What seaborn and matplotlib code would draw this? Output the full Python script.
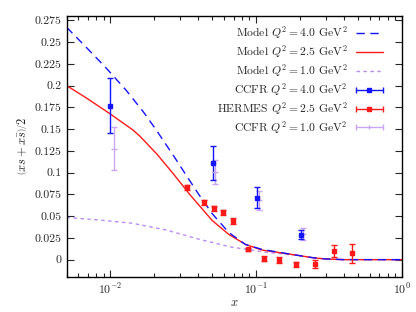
import numpy as np
import pandas as pd
import seaborn as sns
import matplotlib.pyplot as plt
from matplotlib.lines import Line2D
from matplotlib.ticker import FixedLocator, FuncFormatter, LogLocator, NullFormatter, NullLocator
from matplotlib.container import ErrorbarContainer
from matplotlib.legend_handler import HandlerErrorbar

# model curves
x_q40 = [0.005, 0.0068, 0.00934, 0.0128, 0.0167, 0.0204, 0.0272, 0.0336, 0.0404, 0.0499,
         0.0649, 0.0845, 0.110, 0.187, 0.25, 0.3, 0.4, 1.0]
model_q40 = [0.267, 0.2442, 0.2202, 0.1947, 0.1705, 0.1501, 0.119, 0.0953, 0.0749, 0.0529,
             0.0312, 0.0174, 0.0117, 0.0053, 0.002, 0.0008, 0.0, 0.0]

x_q25 = [0.005, 0.0068, 0.00985, 0.01426, 0.016, 0.0209, 0.0272, 0.0354, 0.0499,
         0.0649, 0.0845, 0.110, 0.187, 0.25, 0.3, 0.4, 1.0]
model_q25 = [0.200, 0.186, 0.168, 0.149, 0.1415, 0.121, 0.098, 0.074, 0.045,
             0.029, 0.0175, 0.011, 0.0053, 0.002, 0.0008, 0.0, 0.0]

x_q10 = [0.005, 0.0084, 0.01426, 0.0242, 0.0409, 0.067, 0.1175, 0.187, 0.25, 0.3, 0.4, 1.0]
model_q10 = [0.0485, 0.0455, 0.0417, 0.034, 0.0233, 0.0145, 0.0085, 0.005, 0.002, 0.0008, 0.0, 0.0]

# CCFR Q^2 = 4.0
ccfr4_x = [0.0100, 0.0503, 0.1007, 0.202]
ccfr4_y = [0.177, 0.111, 0.0712, 0.0286]
ccfr4_err = [0.032, 0.019, 0.012, 0.0053]

# HERMES Q^2 = 2.5
hermes_x = [0.0336, 0.0437, 0.0515, 0.059, 0.0689, 0.0877, 0.113, 0.143, 0.188, 0.255, 0.343, 0.458]
hermes_y = [0.083, 0.0658, 0.059, 0.0543, 0.0444, 0.0118, 0.001, -0.0005, -0.0054, -0.005, 0.0095, 0.0072]
hermes_err = [0.003, 0.003, 0.003, 0.003, 0.003, 0.002, 0.003, 0.003, 0.003, 0.005, 0.007, 0.0107]

# CCFR Q^2 = 1.0
ccfr1_x = [0.0105, 0.0526, 0.105, 0.209]
ccfr1_y = [0.1275, 0.1005, 0.068, 0.029]
ccfr1_err = [0.0245, 0.0135, 0.011, 0.0068]

yticks = [0, 0.025, 0.05, 0.075, 0.1, 0.125, 0.15, 0.175, 0.2, 0.225, 0.25, 0.275]

blue = "#1414ff"
red = "#ff1a1a"
purple_line = "#b98cf2"
purple_pts = "#c9a6f4"

sns.set_style("ticks")
plt.rcParams["font.family"] = ["cmr10"]
plt.rcParams["mathtext.fontset"] = "cm"
plt.rcParams["axes.unicode_minus"] = False
plt.rcParams["axes.formatter.use_mathtext"] = True

fig = plt.figure(figsize=(4.16, 3.12), dpi=100)
ax = fig.add_axes([0.160, 0.112, 0.806, 0.837])
ax.set_xscale("log")

sns.lineplot(x=x_q10, y=model_q10, ax=ax, color=purple_line, lw=1.0,
             linestyle=(0, (2.5, 2.5)))
sns.lineplot(x=x_q25, y=model_q25, ax=ax, color=red, lw=1.0)
sns.lineplot(x=x_q40, y=model_q40, ax=ax, color=blue, lw=1.0,
             linestyle=(0, (6, 4)))

ax.errorbar(ccfr1_x, ccfr1_y, yerr=ccfr1_err, fmt="_", color=purple_pts, ms=4,
            capsize=2, elinewidth=1, capthick=1)
ax.errorbar(ccfr4_x, ccfr4_y, yerr=ccfr4_err, fmt="s", color=blue, ms=3,
            capsize=2, elinewidth=1, capthick=1)
ax.errorbar(hermes_x, hermes_y, yerr=hermes_err, fmt="s", color=red, ms=3.5,
            capsize=2, elinewidth=1, capthick=1)

# legend handles drawn gnuplot style (horizontal bar with caps)
h_c4 = ax.errorbar([np.nan], [np.nan], xerr=[1], fmt="s", color=blue, ms=3,
                   capsize=2, elinewidth=1, capthick=1)
h_he = ax.errorbar([np.nan], [np.nan], xerr=[1], fmt="s", color=red, ms=3.5,
                   capsize=2, elinewidth=1, capthick=1)
h_c1 = ax.errorbar([np.nan], [np.nan], xerr=[1], fmt="|", color=purple_pts, ms=3,
                   capsize=2, elinewidth=1, capthick=1)
handles = [
    Line2D([], [], color=blue, lw=1.0, linestyle=(0, (6, 4))),
    Line2D([], [], color=red, lw=1.0),
    Line2D([], [], color=purple_line, lw=1.0, linestyle=(0, (2.5, 2.5))),
    h_c4, h_he, h_c1,
]
labels = [
    r"Model $Q^2 = 4.0$ GeV$^2$",
    r"Model $Q^2 = 2.5$ GeV$^2$",
    r"Model $Q^2 = 1.0$ GeV$^2$",
    r"CCFR $Q^2 = 4.0$ GeV$^2$",
    r"HERMES $Q^2 = 2.5$ GeV$^2$",
    r"CCFR $Q^2 = 1.0$ GeV$^2$",
]
ax.legend(handles, labels, loc="upper right", bbox_to_anchor=(0.943, 0.968),
          frameon=False, markerfirst=False, fontsize=8.4, handlelength=2.3,
          handletextpad=0.7, labelspacing=0.18, borderaxespad=0, borderpad=0,
          handler_map={ErrorbarContainer: HandlerErrorbar(xerr_size=1.15)})

ax.set_xlim(0.005, 1.0)
ax.set_ylim(-0.02, 0.28)
ax.yaxis.set_major_locator(FixedLocator(yticks))
ax.yaxis.set_major_formatter(FuncFormatter(lambda v, p: "%g" % v))
ax.yaxis.set_minor_locator(NullLocator())
ax.xaxis.set_major_locator(LogLocator(base=10, numticks=10))
ax.xaxis.set_minor_locator(LogLocator(base=10, subs=np.arange(2, 10), numticks=20))
ax.xaxis.set_minor_formatter(NullFormatter())
ax.tick_params(which="both", direction="in", top=True, right=True, labelsize=8.5, width=0.8)
ax.tick_params(which="major", length=5)
ax.tick_params(which="minor", length=3)
for s in ax.spines.values():
    s.set_linewidth(1.0)
    s.set_color("black")

ax.set_xlabel(r"$x$", fontsize=9, labelpad=0)
ax.set_ylabel(r"$\left.\left(xs+x\bar{s}\right)\right/2$", fontsize=9, labelpad=4)

fig.savefig("out.png", dpi=100)
